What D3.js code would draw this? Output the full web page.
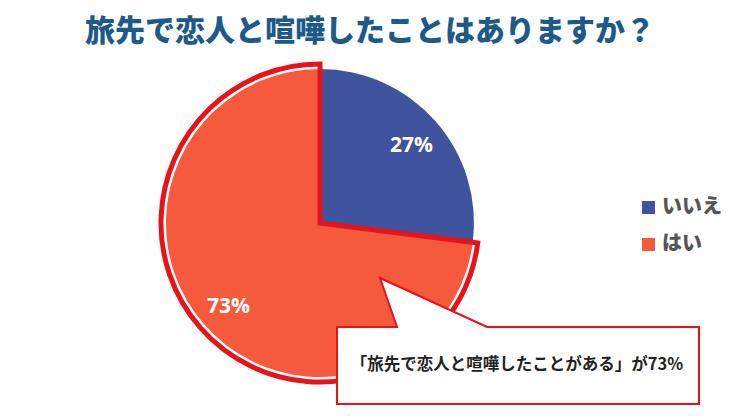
<!DOCTYPE html>
<html>
<head>
<meta charset="utf-8">
<style>
    body { margin: 0; background: #fff; }
    svg { display: block; font-family: "Noto Sans CJK JP", "Noto Sans", sans-serif; }
</style>
</head>
<body>
<svg width="744" height="416"></svg>

<script src="https://d3js.org/d3.v7.min.js"></script>
<script>
    // data
    const title = "旅先で恋人と喧嘩したことはありますか？"
    const categories = ["いいえ", "はい"]
    const values = [27, 73]
    const callout = "「旅先で恋人と喧嘩したことがある」が73%"

    let svg = d3.select("svg")
    let width = 744
    let cx = 320, cy = 223, r = 154

    let color = d3.scaleOrdinal()
        .domain(categories)
        .range(["#40539f", "#f45a3b"])

    svg.append("text")
        .attr("x", 370)
        .attr("y", 41)
        .attr("text-anchor", "middle")
        .attr("font-size", 30)
        .attr("font-weight", 900)
        .attr("fill", "#1d5a89")
        .text(title)

    let pie = d3.pie().sort(null).value(d => d.v)
    let slices = pie(categories.map((c, i) => ({ c: c, v: values[i] })))

    let arc = d3.arc().innerRadius(0).outerRadius(r)
    let outline = d3.arc().innerRadius(0).outerRadius(r + 5)
    let labelArc = d3.arc().innerRadius(122).outerRadius(122)

    let g = svg.append("g").attr("transform", `translate(${cx},${cy})`)

    // orange slice with red frame, blue slice on top
    let yes = slices[1], no = slices[0]
    g.append("path")
        .attr("d", arc(yes))
        .attr("fill", color(yes.data.c))
    g.append("path")
        .attr("d", arc(no))
        .attr("fill", color(no.data.c))
    g.append("path")
        .attr("d", outline(yes))
        .attr("fill", "none")
        .attr("stroke", "#e8121a")
        .attr("stroke-width", 5)
        .attr("stroke-linejoin", "miter")

    g.selectAll("text.pct")
        .data(slices)
        .join("text")
        .attr("class", "pct")
        .attr("transform", d => {
            let p = labelArc.centroid(d)
            return `translate(${p[0]},${p[1] + 4})`
        })
        .attr("text-anchor", "middle")
        .attr("dominant-baseline", "middle")
        .attr("font-family", "'Open Sans', 'Noto Sans', sans-serif")
        .attr("font-size", 21)
        .attr("font-weight", 700)
        .attr("fill", "#fff")
        .text(d => d.data.v + "%")

    // legend
    let legend = svg.append("g")
        .selectAll("g")
        .data(categories)
        .join("g")
        .attr("transform", (d, i) => `translate(642,${201 + i * 37})`)

    legend.append("rect")
        .attr("width", 13)
        .attr("height", 13)
        .attr("fill", d => color(d))

    legend.append("text")
        .attr("x", 20)
        .attr("y", 7)
        .attr("dominant-baseline", "middle")
        .attr("font-size", 20)
        .attr("font-weight", 900)
        .attr("fill", "#555")
        .text(d => d)

    // callout box
    let box = { x: 337, y: 327, w: 362, h: 77 }
    let pts = [
        [box.x, box.y], [397, box.y], [380, 278], [487, box.y],
        [box.x + box.w, box.y], [box.x + box.w, box.y + box.h], [box.x, box.y + box.h]
    ]
    svg.append("path")
        .attr("d", d3.line()(pts) + "Z")
        .attr("fill", "#fff")
        .attr("stroke", "#e8121a")
        .attr("stroke-width", 2)

    svg.append("text")
        .attr("x", box.x + box.w / 2 - 1)
        .attr("y", 366)
        .attr("text-anchor", "middle")
        .attr("dominant-baseline", "middle")
        .attr("font-size", 16.5)
        .attr("font-weight", 700)
        .attr("fill", "#222")
        .text(callout)
</script>
</body>
</html>
